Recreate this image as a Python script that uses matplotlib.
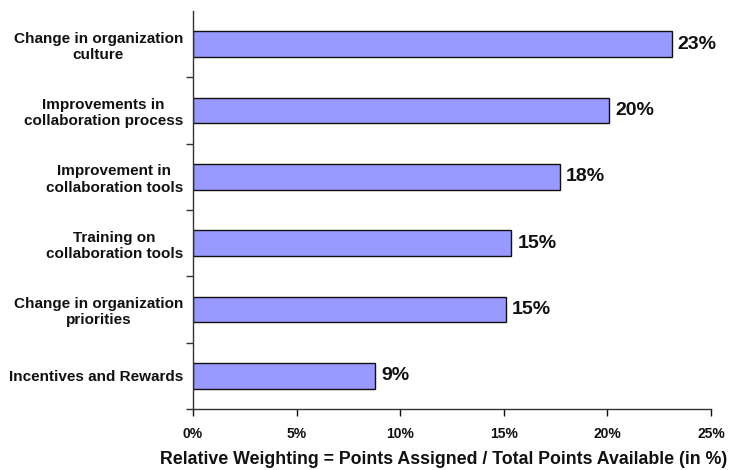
import matplotlib
matplotlib.use("Agg")
import matplotlib.pyplot as plt
import numpy as np

categories = [
    "Change in organization\nculture",
    "Improvements in\ncollaboration process",
    "Improvement in\ncollaboration tools",
    "Training on\ncollaboration tools",
    "Change in organization\npriorities",
    "Incentives and Rewards",
]
values = [23.1, 20.1, 17.7, 15.35, 15.1, 8.8]
xticks = [0, 5, 10, 15, 20, 25]

plt.rcParams["font.family"] = ["Liberation Sans", "DejaVu Sans"]
plt.rcParams["font.weight"] = "bold"

fig = plt.figure(figsize=(7.38, 4.70), dpi=100)
ax = fig.add_axes([193 / 738, 1 - 409 / 470, 518 / 738, 398 / 470])

n = len(categories)
pos = np.arange(n)[::-1]
ax.barh(pos, values, height=0.39, color="#9999FF", edgecolor="#111111", linewidth=1.0)

for p, v in zip(pos, values):
    ax.text(v + 0.3, p, f"{v:.0f}%", va="center", ha="left",
            fontsize=14, fontweight="bold", color="#111111")

ax.set_xlim(0, 25)
ax.set_ylim(-0.5, n - 0.5)
ax.set_xticks(xticks)
ax.set_xticklabels([f"{t}%" for t in xticks], fontsize=10, fontweight="bold")
ax.tick_params(axis="x", length=5, width=1, pad=8, colors="#111111")

ax.set_yticks(pos)
ax.set_yticklabels(categories, fontsize=11, fontweight="bold", multialignment="center",
                   linespacing=1.2)
ax.tick_params(axis="y", which="major", length=0, pad=7.2, colors="#111111")
ax.set_yticks(np.arange(-0.5, n - 0.5, 1.0), minor=True)
ax.tick_params(axis="y", which="minor", length=5, width=1, color="#333333")

for s in ("top", "right"):
    ax.spines[s].set_visible(False)
for s in ("left", "bottom"):
    ax.spines[s].set_color("#333333")
    ax.spines[s].set_linewidth(1.0)

ax.set_xlabel("Relative Weighting = Points Assigned / Total Points Available (in %)",
              fontsize=12.8, fontweight="bold", color="#111111", va="center")
ax.xaxis.set_label_coords(0.483, -0.128)

fig.savefig("out.png", dpi=100)
